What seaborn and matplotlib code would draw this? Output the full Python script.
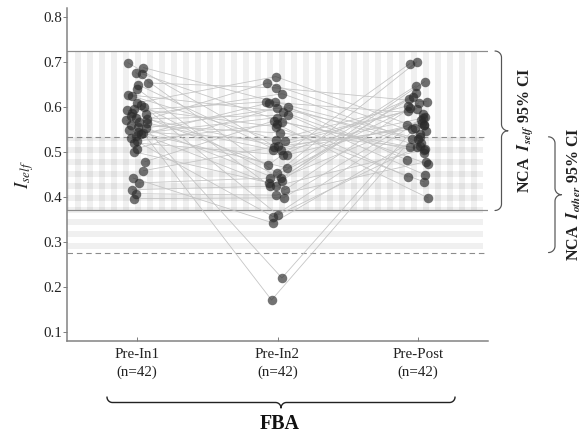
import numpy as np
import pandas as pd
import matplotlib
matplotlib.use("Agg")
import matplotlib.pyplot as plt
import seaborn as sns

# Iself values per subject (same index = same subject across comparisons)
comparisons = ["Pre-In1", "Pre-In2", "Pre-Post"]
n_counts = [42, 42, 42]

pre_in1 = [0.698, 0.687, 0.676, 0.673, 0.653, 0.649, 0.640, 0.627, 0.624, 0.609,
           0.604, 0.600, 0.596, 0.592, 0.587, 0.583, 0.580, 0.575, 0.573, 0.570,
           0.567, 0.564, 0.560, 0.556, 0.553, 0.549, 0.545, 0.542, 0.540, 0.536,
           0.531, 0.524, 0.520, 0.507, 0.500, 0.478, 0.458, 0.442, 0.431, 0.416,
           0.407, 0.396]
pre_in2 = [0.504, 0.611, 0.453, 0.567, 0.642, 0.493, 0.424, 0.589, 0.527, 0.667,
           0.442, 0.360, 0.556, 0.611, 0.471, 0.629, 0.513, 0.220, 0.582, 0.436,
           0.653, 0.504, 0.542, 0.171, 0.600, 0.464, 0.524, 0.576, 0.416, 0.609,
           0.356, 0.562, 0.493, 0.598, 0.431, 0.569, 0.511, 0.342, 0.442, 0.424,
           0.404, 0.398]
pre_post = [0.560, 0.529, 0.700, 0.498, 0.611, 0.565, 0.656, 0.473, 0.602, 0.547,
            0.622, 0.511, 0.433, 0.585, 0.696, 0.520, 0.591, 0.553, 0.449, 0.631,
            0.540, 0.575, 0.507, 0.560, 0.482, 0.647, 0.596, 0.444, 0.609, 0.513,
            0.578, 0.398, 0.618, 0.529, 0.571, 0.511, 0.550, 0.533, 0.598, 0.505,
            0.478, 0.560]

# NCA 95% confidence intervals
self_ci = (0.3698, 0.7238)
other_ci = (0.2764, 0.5333)

yticks = [0.1, 0.2, 0.3, 0.4, 0.5, 0.6, 0.7, 0.8]

df = pd.DataFrame({
    "subject": list(range(42)) * 3,
    "comparison": np.repeat(comparisons, 42),
    "iself": pre_in1 + pre_in2 + pre_post,
})

sns.set_theme(style="white")
plt.rcParams["font.family"] = ["Liberation Serif", "DejaVu Serif"]
plt.rcParams["mathtext.fontset"] = "stix"
plt.rcParams["hatch.linewidth"] = 6.0

W, H = 582, 435
fig = plt.figure(figsize=(W / 72, H / 72), dpi=72)
ax = fig.add_axes([67 / W, 94 / H, 421 / W, 332.7 / H])

# CI background regions (vertical stripes = self, horizontal = other)
ax.axhspan(*self_ci, xmin=0, xmax=0.988, facecolor="none",
           edgecolor=(0, 0, 0, 0.06), hatch="|", lw=0, zorder=0)
ax.axhspan(*other_ci, xmin=0, xmax=0.988, facecolor="none",
           edgecolor=(0, 0, 0, 0.06), hatch="-", lw=0, zorder=0)
for v in self_ci:
    ax.axhline(v, color="#8c8c8c", lw=1.2, zorder=1)
for v in other_ci:
    ax.axhline(v, color="#8c8c8c", lw=1.1, ls=(0, (5, 3.5)), zorder=1)

np.random.seed(7)
n0 = len(ax.collections)
sns.stripplot(data=df, x="comparison", y="iself", order=comparisons,
              jitter=0.08, color="#2a2a2a", alpha=0.66, size=9.5,
              linewidth=0, zorder=3, ax=ax)
pts = [c.get_offsets() for c in ax.collections[n0:n0 + 3]]

# paired lines between comparisons
for i in range(42):
    xs = [p[i, 0] for p in pts]
    ys = [p[i, 1] for p in pts]
    ax.plot(xs, ys, color="#c4c4c4", lw=0.8, zorder=2)

ax.set_xlim(-0.5, 2.5)
ax.set_ylim(0.08, 0.8187)
ax.set_yticks(yticks)
ax.set_yticklabels([f"{t:.1f}" for t in yticks])
ax.set_xticks(range(3))
ax.set_xticklabels([f"{c}\n(n={n})" for c, n in zip(comparisons, n_counts)],
                   linespacing=1.4)
ax.set_xlabel("")
ax.set_ylabel(r"$I_{self}$", fontsize=19, labelpad=7)

for s in ["top", "right"]:
    ax.spines[s].set_visible(False)
for s in ["left", "bottom"]:
    ax.spines[s].set_color("#808080")
    ax.spines[s].set_linewidth(1.5)
ax.tick_params(axis="y", direction="out", length=4, width=1, color="#808080",
               pad=1, labelsize=15, labelcolor="#222222", left=True)
ax.tick_params(axis="x", direction="in", length=4, width=1, color="#808080",
               pad=7, labelsize=15, labelcolor="#222222", bottom=True)


def brace(s0, s1, r):
    # curly brace along s from s1 down to s0, tip at d = 2r
    sm = (s0 + s1) / 2
    t = np.linspace(0, np.pi / 2, 20)
    d = np.concatenate([
        r * np.sin(t),
        2 * r - r * np.cos(t),
        2 * r - r * np.sin(t),
        r * np.cos(t),
    ])
    s = np.concatenate([
        s1 - r + r * np.cos(t),
        sm + r - r * np.sin(t),
        sm - r + r * np.cos(t),
        s0 + r - r * np.sin(t),
    ])
    return s, d


def vbrace(x, v0, v1, r):
    y0 = ax.transData.transform((0, v0))[1]
    y1 = ax.transData.transform((0, v1))[1]
    s, d = brace(y0, y1, r)
    fig.add_artist(plt.Line2D((x + d) / W, s / H, transform=fig.transFigure,
                              color="#555555", lw=1.2))
    return (y0 + y1) / 2


def hbrace(y, c0, c1, r):
    x0 = ax.transData.transform((c0, 0))[0]
    x1 = ax.transData.transform((c1, 0))[0]
    s, d = brace(x0, x1, r)
    fig.add_artist(plt.Line2D(s / W, (y - d) / H, transform=fig.transFigure,
                              color="#222222", lw=1.4))


ym1 = vbrace(495, *self_ci, 6.5)
ym2 = vbrace(548.5, *other_ci, 6.5)
fig.text(525 / W, ym1 / H, r"NCA  $\mathbfit{I}_{\mathbfit{self}}$ 95% CI",
         rotation=90, ha="center", va="center", fontsize=16,
         fontweight="bold", color="#222222")
fig.text(574 / W, ym2 / H, r"NCA  $\mathbfit{I}_{\mathbfit{other}}$ 95% CI",
         rotation=90, ha="center", va="center", fontsize=16,
         fontweight="bold", color="#222222")

hbrace(H - 397, -0.215, 2.265, 5.5)
fig.text(280 / W, (H - 424) / H, "FBA", ha="center", va="center",
         fontsize=20, fontweight="bold", color="#111111")

fig.savefig("out.png", dpi=72)
